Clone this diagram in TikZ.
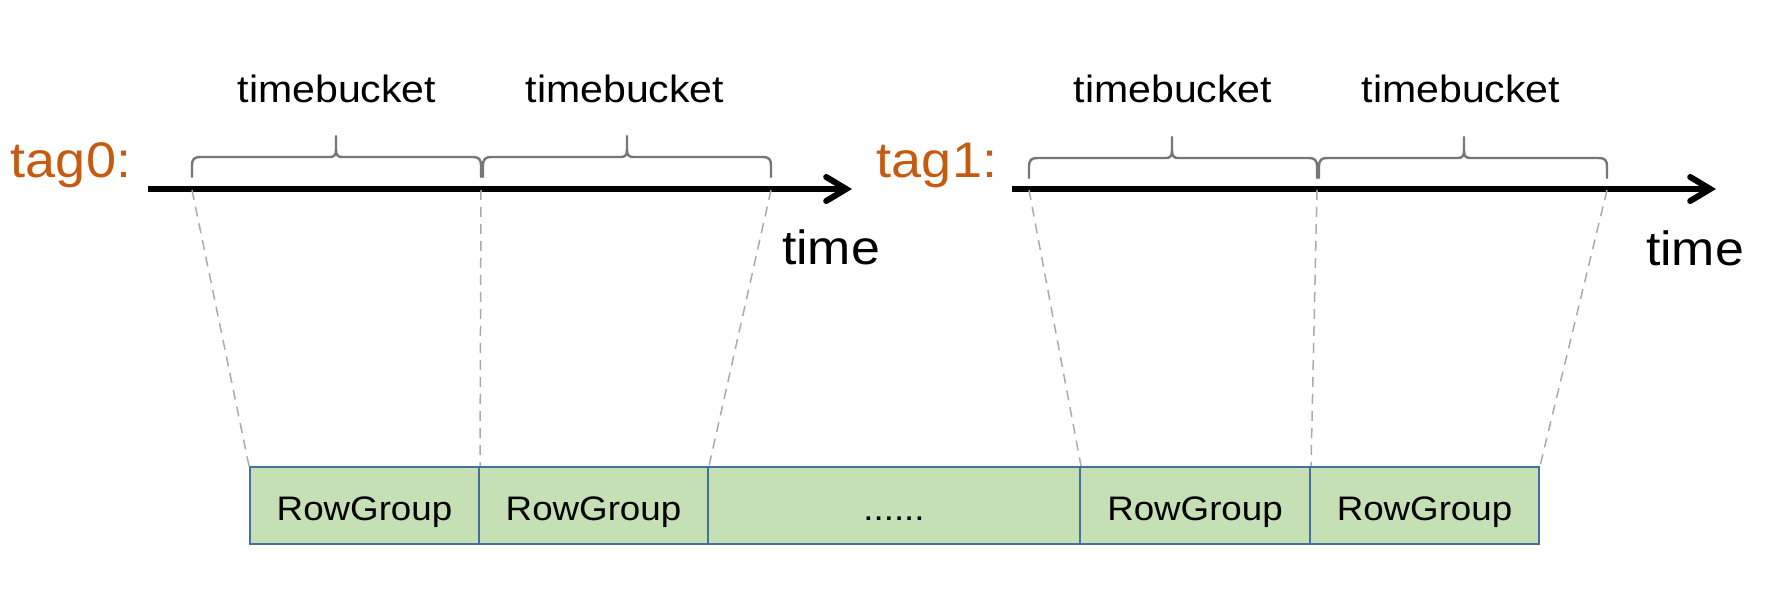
\documentclass[tikz,border=0pt]{standalone}
\usepackage{fontspec}
\setmainfont[FakeStretch=1.08]{Liberation Sans}
\usetikzlibrary{arrows.meta}
\definecolor{tagorange}{RGB}{197,90,17}
\definecolor{bracegray}{RGB}{118,118,118}
\definecolor{dashgray}{RGB}{170,170,170}
\definecolor{boxfill}{RGB}{197,224,180}
\definecolor{boxline}{RGB}{65,113,156}
\newcommand\tbrace[4]{%
  \draw[bracestyle] (#1,{#4+20}) -- (#1,{#4+9}) .. controls (#1,{#4+2}) and ({#1+2},#4) .. ({#1+9},#4) -- ({#2-6},#4) .. controls ({#2-2},#4) and (#2,{#4-2}) .. (#2,{#4-7}) -- (#2,{#4-21});
  \draw[bracestyle] (#3,{#4+20}) -- (#3,{#4+9}) .. controls (#3,{#4+2}) and ({#3-2},#4) .. ({#3-9},#4) -- ({#2+6},#4) .. controls ({#2+2},#4) and (#2,{#4-2}) .. (#2,{#4-7});
}
\tikzset{
  taglabel/.style={text=tagorange, font=\fontsize{50}{52}\selectfont, inner sep=0pt, anchor=base},
  bucketlabel/.style={font=\fontsize{38}{40}\selectfont, inner sep=0pt, anchor=base},
  timelabel/.style={font=\fontsize{48}{50}\selectfont, inner sep=0pt, anchor=base},
  axisstyle/.style={line width=6pt, -{Straight Barb[length=20pt,width=24pt,line cap=round]}},
  bracestyle/.style={draw=bracegray, line width=2.4pt, line cap=round},
  guide/.style={draw=dashgray, line width=1.5pt, dash pattern=on 10pt off 7pt},
  rowbox/.style={draw=boxline, fill=boxfill, line width=2pt, minimum height=77pt, inner sep=0pt,
    font=\fontsize{34}{36}\selectfont, text height=29pt, text depth=0pt},
}
\begin{document}
\begin{tikzpicture}[x=1pt,y=-1pt]
\useasboundingbox (0,0) rectangle (1788,612);
% labels
\node[taglabel] (tag0) at (71,178) {tag0:};
\node[taglabel] (tag1) at (937,178) {tag1:};
\node[bucketlabel] (tb1) at (337,103) {timebucket};
\node[bucketlabel] (tb2) at (625,103) {timebucket};
\node[bucketlabel] (tb3) at (1173,103) {timebucket};
\node[bucketlabel] (tb4) at (1461,103) {timebucket};
\node[timelabel] (time0) at (831,265) {time};
\node[timelabel] (time1) at (1695,266) {time};
% axes
\coordinate (a0s) at (148,189);
\coordinate (a0e) at (852,189);
\coordinate (a1s) at (1012,189);
\coordinate (a1e) at (1716,189);
\draw[axisstyle] (a0s) -- (a0e);
\draw[axisstyle] (a1s) -- (a1e);
% braces
\tbrace{192}{336}{481}{157}
\tbrace{483}{627}{771}{157}
\tbrace{1029}{1172}{1317}{158}
\tbrace{1319}{1464}{1607}{158}
% tick points on axes
\coordinate (p1) at (192,190);
\coordinate (p2) at (481,190);
\coordinate (p3) at (771,190);
\coordinate (p4) at (1029,190);
\coordinate (p5) at (1317,190);
\coordinate (p6) at (1607,190);
% boxes
\node[rowbox, minimum width=229pt] (b1) at (364.5,505.5) {RowGroup};
\node[rowbox, minimum width=229pt] (b2) at (593.5,505.5) {RowGroup};
\node[rowbox, minimum width=372pt] (b3) at (894,505.5) {......};
\node[rowbox, minimum width=230pt] (b4) at (1195,505.5) {RowGroup};
\node[rowbox, minimum width=229pt] (b5) at (1424.5,505.5) {RowGroup};
% guides
\draw[guide] (p1) -- (b1.north west);
\draw[guide] (p2) -- (b1.north east);
\draw[guide] (p3) -- (b2.north east);
\draw[guide] (p4) -- (b3.north east);
\draw[guide] (p5) -- (b4.north east);
\draw[guide] (p6) -- (b5.north east);
\end{tikzpicture}
\end{document}
